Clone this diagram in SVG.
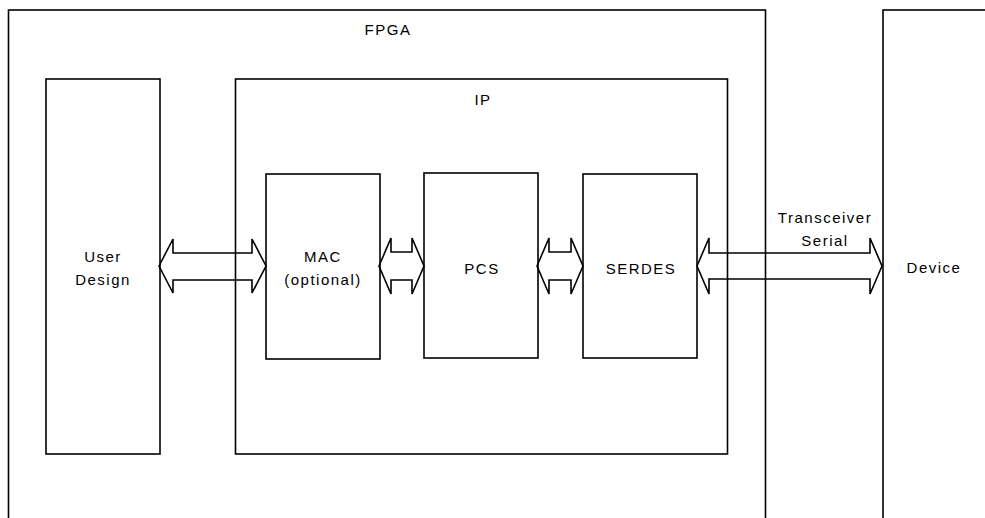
<svg xmlns="http://www.w3.org/2000/svg" width="985" height="518" viewBox="0 0 985 518">
<style>
.box{fill:none;stroke:#000;stroke-width:1.6}
.arr{fill:none;stroke:#000;stroke-width:1.6;stroke-linejoin:miter}
text{font-family:"Liberation Sans",Arial,sans-serif;font-size:15px;letter-spacing:1.5px;fill:#000;text-anchor:middle}
</style>
<rect width="985" height="518" fill="#fff"/>
<g id="fpga"><rect class="box" x="8.5" y="10" width="757" height="530"/><text x="388" y="35">FPGA</text></g>
<g id="device"><rect class="box" x="883" y="10" width="130" height="530"/><text x="934" y="273">Device</text></g>
<g id="user-design"><rect class="box" x="46" y="79" width="114" height="375"/><text x="103" y="262">User</text><text x="103" y="285">Design</text></g>
<g id="ip"><rect class="box" x="235.5" y="79" width="492" height="375"/><text x="483" y="105">IP</text></g>
<g id="mac"><rect class="box" x="266" y="174" width="114" height="185"/><text x="323" y="262">MAC</text><text x="323" y="285">(optional)</text></g>
<g id="pcs"><rect class="box" x="424" y="173" width="114" height="185"/><text x="482" y="274">PCS</text></g>
<g id="serdes"><rect class="box" x="583" y="174" width="114" height="184"/><text x="641" y="274">SERDES</text></g>
<g id="connectors">
<polygon class="arr" points="159,266 173,239 173,253 252,253 252,239 266,266 252,293 252,280 173,280 173,293"/>
<polygon class="arr" points="379,266 391,238 391,252 412,252 412,238 424,266 412,294 412,280 391,280 391,294"/>
<polygon class="arr" points="537,266 549,238 549,252 571,252 571,238 583,266 571,294 571,280 549,280 549,294"/>
<polygon class="arr" points="697,266 709,238 709,253 870,253 870,238 882,266 870,294 870,279 709,279 709,294"/>
<text x="825" y="223">Transceiver</text>
<text x="825" y="246">Serial</text>
</g>
</svg>
